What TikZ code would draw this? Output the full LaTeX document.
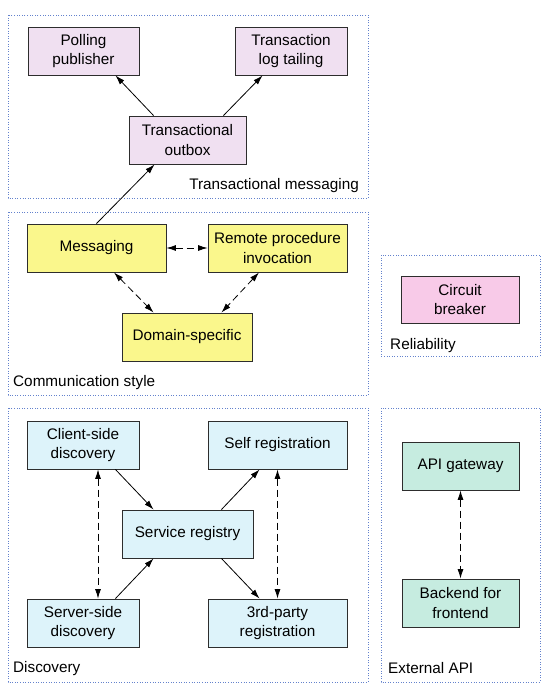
\documentclass[tikz,border=0pt]{standalone}
\usepackage{fontspec}
\setmainfont{Liberation Sans}
\usetikzlibrary{arrows.meta}
\definecolor{grpblue}{RGB}{100,130,205}
\definecolor{nodeline}{RGB}{45,45,45}
\definecolor{lav}{RGB}{240,224,241}
\definecolor{yel}{RGB}{250,247,140}
\definecolor{pnk}{RGB}{248,202,232}
\definecolor{sky}{RGB}{221,243,250}
\definecolor{mint}{RGB}{198,236,224}
\begin{document}
\begin{tikzpicture}[x=1pt,y=-1pt,
  every node/.style={font=\fontsize{15.3}{19.5}\selectfont, inner sep=0pt, align=center},
  box/.style={draw=nodeline, line width=0.9pt, minimum height=48pt},
  grp/.style={draw=grpblue, line width=0.8pt, dash pattern=on 1pt off 1.6pt},
  glabel/.style={},
  conn/.style={line width=0.8pt, -{Latex[length=9.5pt,width=6pt]}},
  dconn/.style={line width=0.8pt, {Latex[length=9.5pt,width=6pt]}-{Latex[length=9.5pt,width=6pt]}, dash pattern=on 7pt off 4pt},
]
\useasboundingbox (0,0) rectangle (555,692);
\fill[white] (0,0) rectangle (555,692);
% groups
\draw[grp] (8,15) rectangle (368,198);
\draw[grp] (8,212) rectangle (368,395);
\draw[grp] (381,255) rectangle (540,356);
\draw[grp] (8,408) rectangle (368,682);
\draw[grp] (381,408) rectangle (540,682);
\node[glabel, anchor=east] (lbltm) at (359,186) {Transactional messaging};
\node[glabel, anchor=west] (lblcs) at (13,383) {Communication style};
\node[glabel, anchor=west] (lblrel) at (390,346) {Reliability};
\node[glabel, anchor=west] (lbldis) at (13,669) {Discovery};
\node[glabel, anchor=west] (lblext) at (388,668) {External API};
% nodes
\node[box, fill=lav, minimum width=111pt] (poll) at (83.5,51) {Polling\\publisher};
\node[box, fill=lav, minimum width=112pt] (tail) at (291,51) {Transaction\\log tailing};
\node[box, fill=lav, minimum width=117pt] (outbox) at (187.5,140) {Transactional\\outbox};
\node[box, fill=yel, minimum width=139pt] (msg) at (96.5,248) {Messaging};
\node[box, fill=yel, minimum width=139pt] (rpi) at (277.5,248) {Remote procedure\\invocation};
\node[box, fill=yel, minimum width=130pt] (dom) at (187,337) {Domain-specific};
\node[box, fill=pnk, minimum width=118pt, minimum height=47pt] (cb) at (460,299.5) {Circuit\\breaker};
\node[box, fill=sky, minimum width=112pt] (client) at (83,445) {Client-side\\discovery};
\node[box, fill=sky, minimum width=139pt] (self) at (277.5,445) {Self registration};
\node[box, fill=sky, minimum width=131pt] (reg) at (187.5,534) {Service registry};
\node[box, fill=sky, minimum width=112pt] (server) at (83,623) {Server-side\\discovery};
\node[box, fill=sky, minimum width=139pt] (third) at (277.5,623) {3rd-party\\registration};
\node[box, fill=mint, minimum width=117pt] (api) at (460.5,466) {API gateway};
\node[box, fill=mint, minimum width=117pt] (bff) at (460.5,603) {Backend for\\frontend};
% connectors
\draw[conn] ([xshift=25pt]outbox.north west) -- ([xshift=-24pt]poll.south east);
\draw[conn] ([xshift=-23pt]outbox.north east) -- ([xshift=28pt]tail.south west);
\draw[conn] (msg.north) -- ([xshift=26pt]outbox.south west);
\draw[dconn] (msg.east) -- (rpi.west);
\draw[dconn] ([xshift=17.5pt]msg.south) -- ([xshift=32pt]dom.north west);
\draw[dconn] ([xshift=-18.5pt]rpi.south) -- ([xshift=-31pt]dom.north east);
\draw[conn] ([xshift=-24pt]client.south east) -- ([xshift=32pt]reg.north west);
\draw[conn] ([xshift=-32pt]reg.north east) -- ([xshift=52pt]self.south west);
\draw[conn] ([xshift=-24pt]server.north east) -- ([xshift=32pt]reg.south west);
\draw[conn] ([xshift=-32pt]reg.south east) -- ([xshift=52pt]third.north west);
\draw[dconn] ([xshift=15pt]client.south) -- ([xshift=15pt]server.north);
\draw[dconn] (self.south) -- (third.north);
\draw[dconn] (api.south) -- (bff.north);
\end{tikzpicture}
\end{document}
